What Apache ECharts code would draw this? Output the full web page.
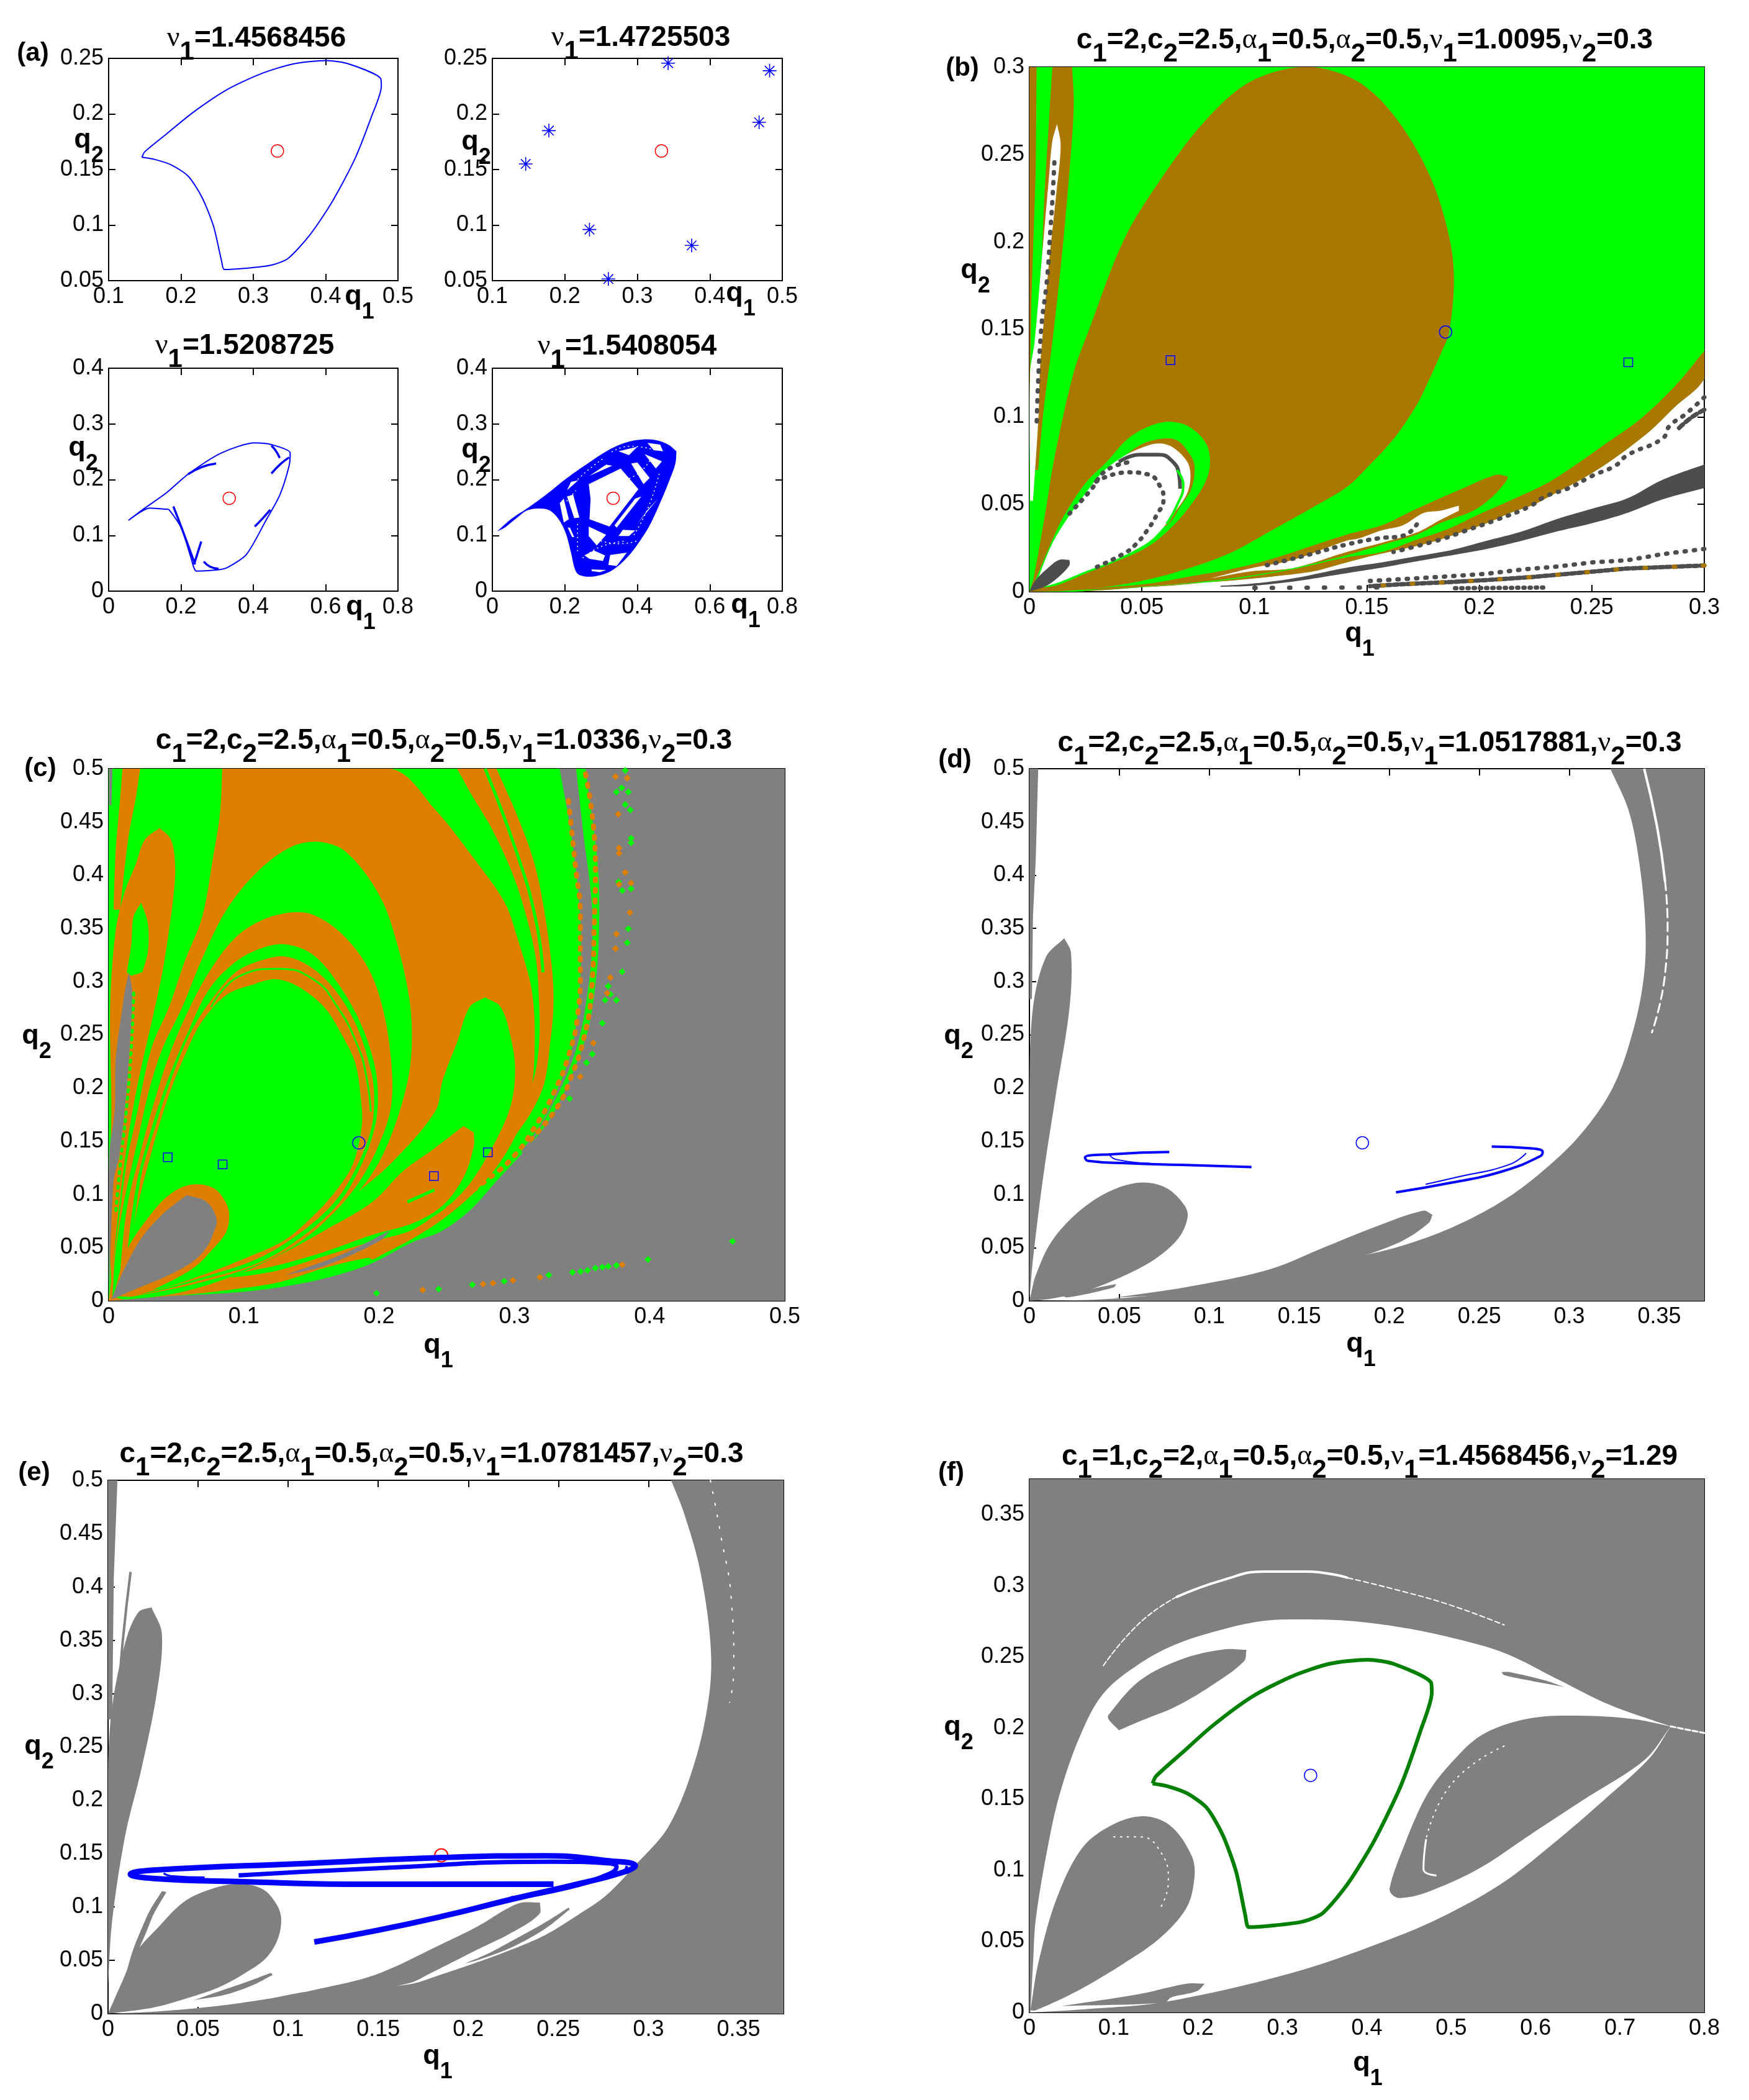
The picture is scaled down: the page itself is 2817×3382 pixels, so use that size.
<!DOCTYPE html>
<html><head><meta charset="utf-8"><style>html,body{margin:0;padding:0;background:#fff}#c{width:2817px;height:3382px}</style>
<script src="https://cdn.jsdelivr.net/npm/echarts@6/dist/echarts.min.js"></script></head><body><div id="c"></div>
<script>
const GREEN='#00FF00',BROWN='#AA7700',ORANGE='#DF7F00',GRAY='#808080',DARK='#4D4D4D',BLUE='#0000FF',RED='#FF0000',WHITE='#FFFFFF',OG='#007F00';

// ---- tick values
const t01to05=[0.1,0.2,0.3,0.4,0.5], t005to025=[0.05,0.1,0.15,0.2,0.25], t0to08a=[0,0.2,0.4,0.6,0.8], t0to04=[0,0.1,0.2,0.3,0.4];
const t0to03=[0,0.05,0.1,0.15,0.2,0.25,0.3], t0to05f=[0,0.05,0.1,0.15,0.2,0.25,0.3,0.35,0.4,0.45,0.5], t0to05c=[0,0.1,0.2,0.3,0.4,0.5];
const t0to035=[0,0.05,0.1,0.15,0.2,0.25,0.3,0.35], t0to08=[0,0.1,0.2,0.3,0.4,0.5,0.6,0.7,0.8];

// ---- equilibrium values
const eqA=[[0.3333,0.1667]], eqB=[[0.185,0.1485]];

// ---- panel (a)
const orbitA1=[[.146,.161],[.150,.166],[.180,.182],[.218,.202],[.264,.222],[.310,.236],[.355,.245],[.401,.248],[.432,.245],[.476,.232],[.477,.225],[.463,.197],[.440,.159],[.409,.121],[.378,.091],[.348,.070],[.325,.064],[.287,.061],[.260,.060],[.256,.068],[.245,.099],[.229,.125],[.210,.144],[.187,.154],[.164,.159],[.146,.161]];
const starsA2=[[.146,.155],[.178,.185],[.234,.096],[.260,.0515],[.3425,.2457],[.375,.0817],[.468,.1925],[.4825,.2389]];
const orbitA3=[[.055,.127],[.098,.148],[.159,.176],[.220,.210],[.312,.248],[.404,.266],[.450,.263],[.502,.248],[.499,.225],[.473,.172],[.435,.127],[.381,.066],[.327,.042],[.297,.038],[.243,.036],[.228,.059],[.202,.112],[.167,.146],[.159,.147],[.113,.149],[.083,.140],[.055,.127]];
const fragsA3=[[[.220,.210],[.259,.223],[.297,.229]],[[.450,.261],[.462,.252],[.473,.239]],[[.450,.211],[.475,.228],[.499,.240]],[[.404,.116],[.425,.130],[.447,.146]],[[.179,.152],[.205,.108],[.239,.048]],[[.236,.048],[.256,.089]],[[.263,.053],[.280,.044],[.304,.040]]];
const attractorA4=[[.0126,.107],[.051,.129],[.097,.149],[.148,.173],[.206,.203],[.263,.229],[.320,.253],[.365,.266],[.411,.272],[.451,.271],[.485,.263],[.508,.251],[.505,.229],[.491,.203],[.468,.166],[.434,.118],[.405,.088],[.377,.064],[.343,.043],[.314,.032],[.274,.026],[.240,.029],[.228,.039],[.217,.069],[.203,.103],[.183,.129],[.160,.144],[.137,.148],[.097,.145],[.063,.129],[.034,.114]];
const holesA4=[
 [[.266,.192],[.354,.220],[.403,.183],[.323,.116],[.268,.129],[.271,.165]],
 [[.383,.229],[.400,.231],[.434,.203],[.417,.192]],
 [[.428,.266],[.463,.263],[.471,.251],[.445,.253]],
 [[.420,.246],[.468,.233],[.451,.220]],
 [[.268,.207],[.331,.225],[.314,.227]],
 [[.186,.158],[.197,.166],[.211,.129],[.197,.123]],
 [[.206,.170],[.223,.173],[.240,.132],[.226,.131]],
 [[.266,.116],[.314,.101],[.288,.082],[.266,.099]],
 [[.280,.073],[.311,.064],[.305,.054],[.268,.058],[.254,.064]],
 [[.360,.110],[.394,.109],[.377,.099],[.348,.099]],
 [[.343,.114],[.411,.170],[.394,.166],[.337,.118]],
 [[.400,.121],[.457,.166],[.430,.147]],
 [[.325,.065],[.371,.069],[.343,.045],[.320,.047]],
 [[.274,.039],[.314,.038],[.297,.034],[.274,.036]],
 [[.208,.114],[.214,.114],[.226,.097],[.220,.097]],
 [[.217,.196],[.237,.199],[.206,.181]],
 [[.348,.251],[.400,.259],[.377,.244]]];
const speckA4=[[[.22,.19],[.26,.215],[.31,.24]],[[.33,.25],[.38,.26],[.44,.255]],[[.46,.21],[.43,.15],[.39,.10]],[[.25,.06],[.30,.08],[.37,.09]],[[.19,.15],[.23,.18]],[[.235,.12],[.235,.07]],[[.30,.09],[.35,.085],[.40,.09]],[[.44,.24],[.41,.215],[.37,.20]]];

// ---- panel (b)
const bGreenBase=[[0,0],[.0205,0],[.0343,.0011],[.0527,.0028],[.0711,.0046],[.0895,.0064],[.1079,.0087],[.1263,.0117],[.141,.0168],[.1514,.0203],[.1618,.0233],[.1722,.0262],[.1826,.0298],[.193,.0345],[.2034,.0392],[.2138,.0451],[.2242,.0498],[.2346,.0569],[.245,.064],[.2554,.0722],[.2658,.0817],[.2762,.0923],[.2866,.1053],[.3,.1218],[.3,.3],[0,.3]];
const bBand=[[.3,.1377],[.2866,.1171],[.271,.0982],[.2554,.084],[.2398,.0699],[.2294,.0616],[.2138,.0522],[.1992,.0439],[.1857,.0357],[.1722,.0298],[.1566,.0227],[.141,.0197],[.1171,.0129],[.0895,.007],[.0619,.0034],[.0343,.0017],[.0205,0],[.0343,.0011],[.0527,.0028],[.0711,.0046],[.0895,.0064],[.1079,.0087],[.1263,.0117],[.141,.0168],[.1514,.0203],[.1618,.0233],[.1722,.0262],[.1826,.0298],[.193,.0345],[.2034,.0392],[.2138,.0451],[.2242,.0498],[.2346,.0569],[.245,.064],[.2554,.0722],[.2658,.0817],[.2762,.0923],[.2866,.1053],[.3,.1218]];
const bTeardrop=[[.0159,.0005],[.0343,.0028],[.0527,.007],[.0711,.0135],[.0895,.0223],[.108,.0353],[.126,.0483],[.141,.0598],[.151,.0722],[.162,.0876],[.172,.1065],[.177,.1194],[.184,.1395],[.1865,.1478],[.1887,.1771],[.1868,.2015],[.1787,.2357],[.1648,.2675],[.1486,.2895],[.1301,.2993],[.1139,.2988],[.0954,.2895],[.0769,.2675],[.0583,.2357],[.0421,.2015],[.0259,.1478],[.0196,.125],[.0113,.0778],[.0067,.0424],[.0017,.007],[0,0]];
const bLoopGreen=[[.0012,.0022],[.0113,.0329],[.0159,.0447],[.0251,.0624],[.0343,.0742],[.0435,.0872],[.0527,.0943],[.0619,.0972],[.0711,.0943],[.0785,.0848],[.0803,.0742],[.0785,.0636],[.073,.0518],[.0638,.0376],[.0527,.0258],[.038,.017],[.0251,.0105],[.0113,.0034]];
const bLoopBrown=[[.038,.073],[.049,.0837],[.0582,.0874],[.0656,.0866],[.0711,.0789],[.0734,.0719],[.072,.0589],[.0674,.0494],[.0619,.0388],[.055,.035],[.05,.06],[.045,.07]];
const bLoopWhite=[[.0021,.0017],[.0095,.0258],[.0159,.04],[.0251,.0565],[.0325,.0683],[.0408,.0766],[.049,.0819],[.0573,.0848],[.0638,.0825],[.0702,.0742],[.0716,.066],[.0702,.0565],[.0656,.0471],[.0601,.0376],[.0527,.0282],[.038,.0182],[.0251,.0117],[.0113,.0046]];
const bLoopArc=[[.0398,.0742],[.049,.0784],[.0573,.0784],[.0628,.0755],[.0665,.0672],[.067,.0589]];
const bLoopDots=[[.0297,.063],[.0435,.0683],[.0527,.0671],[.0582,.0601],[.0596,.053],[.0564,.0435],[.0518,.0341],[.0472,.027],[.0426,.0223],[.0297,.014]];
const bLoopDots2=[[.0178,.0447],[.027,.0577],[.0343,.0695],[.0454,.0742]];
const bLoopGreenArc=[[.0656,.0695],[.0684,.0612],[.0656,.0494],[.061,.0388]];
const bBlob=[[0,.0005],[.003,.007],[.0086,.014],[.0132,.0182],[.0178,.0182],[.0178,.0152],[.0132,.0087],[.0076,.0034],[.0012,.0005]];
const bFingerTop=[[.0102,.3],[.019,.3],[.0197,.2773],[.0178,.2406],[.0144,.1918],[.0102,.1429],[.0063,.1038],[.0039,.0696],[.0016,.0696],[.0039,.1185],[.0063,.2162],[.0086,.2675]];
const bLeftStrip=[[0,.3],[.0032,.3],[.0028,.2406],[.0009,.1673],[0,.1014]];
const bSliver=[[.0123,.2675],[.0139,.2553],[.012,.2284],[.0086,.1869],[.0056,.1429],[.0046,.125],[.004,.0996],[.0016,.052],[.0003,.052],[.0003,.125],[.0023,.1429],[.0056,.1918],[.0086,.2357],[.0102,.2577]];
const bSliverDots=[[.0111,.2455],[.0102,.2235],[.0093,.2064],[.0079,.1796],[.0051,.1478],[.0032,.0941]];
const bFinger=[[.2128,.0658],[.2076,.0669],[.193,.0593],[.1722,.0475],[.1566,.038],[.141,.0327],[.1079,.0188],[.0895,.0129],[.0711,.0087],[.0527,.0046],[.0297,.0022],[.0067,.0005],[.0343,.0017],[.0619,.004],[.0895,.0076],[.1171,.0135],[.141,.0209],[.1566,.0268],[.1722,.0327],[.1826,.0392],[.1972,.0463],[.2055,.054],[.2117,.0628]];
const bFingerHole=[[.1909,.0492],[.1826,.0463],[.1753,.0451],[.166,.038],[.1566,.0351],[.1462,.0304],[.141,.0292],[.1171,.0182],[.0987,.0135],[.0803,.0076],[.0987,.0117],[.1171,.0135],[.141,.0227],[.1566,.028],[.1722,.0339],[.1826,.041],[.1909,.0463]];
const bHoleDots=[[.1722,.0385],[.166,.032],[.155,.0305],[.141,.027],[.125,.0215],[.105,.015]];
const bDarkBand=[[.3,.0728],[.2814,.064],[.2658,.0534],[.2502,.0475],[.2346,.0416],[.219,.0345],[.2034,.0292],[.1878,.0239],[.1722,.0203],[.1566,.0168],[.141,.0138],[.1171,.0076],[.0987,.0046],[.0849,.0034],[.0849,.0028],[.0987,.0034],[.1171,.0058],[.141,.0106],[.1566,.0138],[.1722,.0174],[.1878,.0209],[.2034,.0245],[.219,.0292],[.2346,.0345],[.2502,.0392],[.2658,.0451],[.2814,.0528],[.3,.0593]];
const bEdgeDots1=[[.3,.1112],[.2918,.1017],[.2845,.0947],[.2814,.0876],[.2658,.0781],[.2606,.0722],[.2502,.0663],[.2398,.0593],[.2294,.0545],[.2221,.0486],[.2086,.0416],[.193,.0345],[.1826,.0298],[.1618,.0227]];
const bEdgeDots2=[[.3,.1041],[.296,.1011],[.2928,.0982],[.2887,.0935]];
const bRowA=[[.3,.0245],[.2814,.0215],[.2658,.018],[.2502,.0168],[.2346,.0144],[.219,.0127],[.2034,.0103],[.1826,.0085],[.167,.0073],[.1514,.0062]];
const bRowB=[[.3,.015],[.2658,.0133],[.245,.0109],[.2242,.0085],[.2034,.0067],[.1878,.0056],[.167,.0044],[.1514,.0032]];
const bRowC=[[.2284,.0024],[.1888,.002]];
const bRowD=[[.1,.0022],[.16,.0025]];
const bMarks=[[.0627,.1324],[.2662,.1312]];

// ---- panel (c)
const cGreenBase=[[0,0],[.0118,.003],[.0446,.0046],[.0938,.0079],[.1266,.0128],[.1594,.021],[.1922,.034],[.225,.0553],[.2455,.0651],[.2669,.0847],[.2868,.1125],[.3082,.142],[.3266,.1714],[.3419,.2106],[.3541,.2531],[.3595,.2924],[.3625,.3414],[.3618,.4068],[.3526,.5],[0,.5]];
const cGrayChannel=[[.3335,.5],[.3419,.4395],[.348,.3741],[.3492,.325],[.3472,.276],[.3419,.2335],[.3327,.2008],[.3205,.1681],[.3052,.1403],[.3067,.137],[.3174,.1583],[.3296,.1878],[.3404,.2172],[.348,.2466],[.3526,.276],[.3572,.325],[.3572,.3741],[.351,.4395],[.3457,.5]];
const cBigBrown=[[.084,.5],[.2088,.5],[.2409,.4624],[.2715,.4133],[.2929,.3741],[.3021,.3414],[.3128,.2924],[.3151,.2433],[.312,.1943],[.3021,.1583],[.2868,.1256],[.2684,.0994],[.2486,.0782],[.2271,.0602],[.2027,.0438],[.195,.0389],[.1922,.0406],[.1594,.0308],[.1266,.0177],[.0938,.0111],[.061,.0062],[.0282,.003],[0,0],[.007,.07],[.0134,.13],[.02,.17],[.0315,.2369],[.0446,.276],[.0561,.3185],[.0692,.361],[.0774,.4183],[.0823,.4575]];
const cT1=[[.0028,.0046],[.0052,.0471],[.0118,.0962],[.0216,.1518],[.0298,.1975],[.0397,.2368],[.0544,.276],[.0692,.3218],[.0872,.3676],[.1102,.4035],[.1348,.4264],[.1553,.4313],[.1758,.4215],[.2004,.3806],[.2135,.3349],[.2225,.2825],[.2242,.2433],[.2217,.2106],[.2135,.1714],[.202,.1354],[.1889,.1092],[.1725,.0863],[.1512,.0635],[.1266,.0438],[.0938,.0242],[.0528,.0079],[.0118,.0013]];
const cT2=[[.0069,.0046],[.0134,.0864],[.0233,.1387],[.0331,.1844],[.0446,.2302],[.0577,.2695],[.0741,.3087],[.0938,.3414],[.1135,.3578],[.1348,.3649],[.1512,.3627],[.1725,.3447],[.1922,.312],[.2037,.2695],[.2094,.2172],[.2086,.1812],[.2004,.1485],[.1873,.1158],[.1692,.0863],[.143,.0569],[.1102,.034],[.0692,.0177],[.02,.0046]];
const cT3=[[.0102,.0046],[.02,.106],[.0315,.1616],[.0446,.2106],[.0577,.2499],[.0741,.2924],[.0938,.3185],[.1135,.3316],[.1315,.3349],[.1512,.3251],[.1692,.2989],[.1856,.2629],[.1963,.2237],[.1991,.1943],[.1971,.1648],[.1873,.1289],[.1709,.0929],[.1463,.0635],[.1135,.0373],[.0725,.0209],[.0249,.0062]];
const cT4=[[.0134,.0046],[.0233,.1125],[.0348,.1648],[.0479,.2139],[.061,.2531],[.0758,.2825],[.0938,.3087],[.1135,.3202],[.1315,.3234],[.1512,.312],[.1692,.2891],[.184,.2564],[.1938,.2171],[.1963,.1943],[.1947,.1648],[.1856,.1321],[.1692,.0962],[.1446,.0667],[.1118,.0406],[.0708,.0226],[.0282,.0079]];
const cT5Line=[[.0758,.276],[.0971,.3054],[.125,.312],[.1512,.3022],[.1692,.276],[.184,.24],[.1906,.2106],[.1938,.1779]];
const cT7=[[.0118,.0111],[.02,.0798],[.0307,.1354],[.043,.1877],[.0561,.2302],[.0692,.2629],[.0872,.2875],[.1069,.2973],[.1233,.3022],[.1397,.2956],[.1594,.276],[.1725,.2499],[.1823,.2237],[.1864,.191],[.1872,.1648],[.1807,.1289],[.1676,.1027],[.1512,.0798],[.1299,.0569],[.102,.0406],[.0692,.0242],[.0364,.0111]];
const cLobeBrown=[[.0036,.0046],[.0134,.0471],[.0282,.0765],[.0446,.0994],[.061,.1092],[.0774,.106],[.0864,.0929],[.0892,.0798],[.0864,.0635],[.0758,.0471],[.0643,.0324],[.0446,.0177],[.02,.0046]];
const cLobeGray=[[.002,.0013],[.0118,.0308],[.0249,.0602],[.0413,.0831],[.0577,.0994],[.0725,.0929],[.0799,.0765],[.0774,.0635],[.0725,.0504],[.0626,.0373],[.0446,.0242],[.02,.0111]];
const cBulb=[[.2784,.2852],[.2899,.276],[.2975,.2466],[.3006,.2171],[.2975,.1844],[.2868,.1517],[.2684,.1125],[.2531,.0913],[.2409,.0798],[.2225,.0655],[.195,.056],[.1594,.042],[.1266,.029],[.105,.024],[.09,.022],[.105,.03],[.125,.042],[.145,.058],[.16,.073],[.1758,.0929],[.2086,.129],[.2414,.178],[.247,.2073],[.2577,.2433],[.2669,.276]];
const cFingerSmall=[[.2623,.1642],[.27,.1583],[.27,.1452],[.2623,.1158],[.247,.0896],[.2256,.0733],[.195,.062],[.1594,.046],[.1266,.034],[.1,.027],[.1266,.043],[.1594,.066],[.195,.0929],[.218,.1223],[.2394,.1419]];
const cGreenSpot=[[.221,.093],[.2409,.1043]];
const cGraySliver=[[.13,.024],[.175,.045],[.2086,.0665],[.2,.056],[.16,.033]];
const cLeftLobe=[[.0377,.4444],[.0462,.433],[.0492,.4068],[.0479,.3806],[.0446,.3479],[.0397,.3087],[.0331,.2695],[.0266,.2335],[.02,.1943],[.0134,.1452],[.0069,.0798],[.002,.0144],[.0003,.0798],[.002,.1779],[.0011,.276],[.0052,.3479],[.0118,.3839],[.02,.4101],[.0266,.433]];
const cTopStrip=[[.0102,.5],[.0233,.5],[.02,.4722],[.0151,.4395],[.0118,.4068],[.0085,.3676],[.0036,.3676],[.0052,.4232],[.0085,.4722]];
const cLeftGreen=[[.0241,.3741],[.029,.3545],[.029,.3283],[.0249,.3087],[.0167,.3054],[.0134,.3087],[.0167,.3349],[.0184,.361]];
const cGrayColumn=[[.015,.3087],[.0175,.2891],[.0159,.2433],[.0118,.1779],[.0077,.1354],[.0036,.1125],[.0003,.0046],[.0003,.1354],[.0044,.1779],[.0052,.2269],[.0102,.276],[.0126,.2957]];
const cGrayTop=[[.0003,.5],[.0028,.5],[.002,.4657],[.0003,.4657]];
const cColumnEdge=[[.0185,.2891],[.017,.2433],[.013,.1779],[.0092,.1354],[.005,.08]];
const cStripe=[[.2577,.5],[.2868,.5],[.3021,.4559],[.3143,.4133],[.322,.3676],[.3281,.3087],[.3289,.276],[.3266,.2433],[.322,.204],[.3128,.1779],[.3006,.155],[.3082,.1844],[.3159,.2171],[.3186,.2498],[.3182,.2825],[.3159,.3218],[.3082,.3643],[.299,.4003],[.2837,.4428],[.2684,.4755]];
const cStripeGreen=[[.2784,.5],[.3021,.4199],[.3159,.3578],[.3212,.3087]];
const cEdgeOuter=[[.3526,.495],[.36,.41],[.359,.35],[.357,.29],[.352,.25],[.3419,.21],[.3296,.178],[.3082,.147]];
const cEdgeInner=[[.34,.47],[.345,.41],[.3488,.36],[.3488,.31],[.347,.27],[.34,.23],[.329,.195],[.316,.165],[.299,.135],[.281,.115],[.249,.085]];
const cDotsGreen=[[.3794,.482],[.3755,.4781],[.3843,.4781],[.382,.4663],[.3858,.4614],[.3863,.4346],[.3863,.4304],[.3771,.3937],[.3798,.3855],[.3863,.3872],[.3843,.3496],[.3835,.3365],[.3797,.3094],[.3694,.2956],[.371,.2881],[.3671,.2825],[.3755,.2825],[.3651,.261],[.3576,.2319],[.3534,.2237],[.3408,.19],[.3988,.0389],[.3755,.0334],[.3694,.0324],[.3651,.0317],[.3599,.0308],[.3541,.0288],[.3491,.0275],[.343,.0268],[.3255,.0242],[.2925,.0184],[.2689,.0151],[.244,.0111],[.1981,.0072],[.382,.4984],[.4613,.0559]];
const cDotsBrown=[[.3748,.4925],[.3835,.4912],[.3768,.4572],[.3774,.4254],[.3774,.4205],[.382,.4026],[.3774,.3914],[.3863,.3927],[.3855,.365],[.3755,.3447],[.3748,.3309],[.371,.3038],[.3687,.2891],[.3584,.2423],[.3488,.2106],[.3798,.034],[.3189,.0222],[.299,.0193],[.2842,.0167],[.2769,.0157],[.2322,.0102]];
const cMarks=[[.0437,.1349],[.0843,.1282],[.2405,.1172],[.2804,.1396]];

// ---- panel (d)
const dMain=[[0,0],[.0468,.002],[.0902,.0099],[.1335,.0236],[.1769,.0394],[.2058,.0512],[.2347,.0689],[.2636,.0946],[.2867,.1241],[.3069,.1576],[.3243,.2009],[.3358,.2561],[.3416,.3073],[.3422,.3546],[.3387,.4137],[.3329,.461],[.3228,.5],[.375,.5],[.375,0]];
const dWhiteLine=[[.3416,.5],[.3488,.4452],[.3532,.394]];
const dWhiteDash=[[.3532,.394],[.3546,.3546],[.3532,.3073],[.3459,.2522]];
const dLobe=[[0,0],[.0035,.0236],[.0121,.0552],[.0266,.0827],[.0439,.1024],[.0613,.1111],[.0757,.1064],[.0858,.0906],[.0879,.0788],[.0829,.0591],[.0699,.0394],[.0526,.0236],[.0324,.0099],[.0121,.002]];
const dSliver1=[[.0179,.0059],[.0483,.0158],[.0468,.0126],[.0208,.0032]];
const dSliver2=[[.0136,.0611],[.0035,.0236],[.0006,.0118],[.0078,.0394]];
const dFinger=[[.0194,.3408],[.0231,.327],[.0223,.2758],[.015,.197],[.0078,.1182],[.002,.0394],[0,0],[0,.197],[.002,.2758],[.0092,.3231]];
const dTopStrip=[[0,.5],[.0049,.5],[.0035,.4137],[.002,.3625],[.0014,.2837],[0,.2837]];
const dRidge=[[.0468,.0028],[.0902,.0138],[.1335,.0296],[.1624,.0493],[.1913,.069],[.2188,.0847],[.224,.0808],[.2217,.0729],[.2058,.0552],[.1769,.0374],[.148,.0217],[.0902,.0079]];
const dBlue1=[[.0777,.1399],[.0468,.1379],[.0309,.1347],[.0324,.1316],[.0555,.1292],[.0844,.1277],[.1234,.1257]];
const dBlue2=[[.0445,.1371],[.0483,.1328],[.067,.1292]];
const dBlue3=[[.2569,.145],[.278,.1434],[.2852,.1399],[.2838,.1359],[.2636,.1221],[.2347,.1111],[.2037,.102]];
const dBlue4=[[.276,.1387],[.2665,.128],[.2376,.1162],[.2202,.1095]];

// ---- panel (e)
const eMain=[[0,0],[.0253,.0019],[.0536,.0059],[.0725,.0098],[.0914,.0147],[.1103,.0206],[.1292,.0225],[.167,.0275],[.1859,.0373],[.2048,.0481],[.2237,.0599],[.2426,.0737],[.2615,.0933],[.2766,.111],[.2929,.1395],[.3112,.1756],[.3257,.2358],[.3338,.2999],[.3344,.3481],[.3286,.4162],[.3199,.4684],[.3126,.5],[.375,.5],[.375,0]];
const eRidge=[[.2398,.1042],[.2394,.0933],[.2237,.0756],[.2048,.0599],[.1783,.0373],[.167,.0285],[.1292,.0177],[.1103,.0206],[.148,.0363],[.1859,.0658],[.2048,.0815],[.2275,.1032]];
const eRidge2=[[.2558,.0996],[.2426,.0855],[.2237,.0678],[.2105,.056],[.1982,.0471],[.2048,.05],[.2237,.0619],[.2426,.0796],[.2562,.0977]];
const eLobe=[[.0725,.1218],[.0857,.1169],[.0933,.1032],[.0961,.0894],[.0942,.0698],[.0876,.052],[.0763,.0383],[.0612,.0245],[.0442,.0147],[.0253,.0058],[0,0],[.0064,.0245],[.0158,.058],[.0271,.0796],[.0423,.1051],[.0574,.1169]];
const eSliver1=[[.0905,.0383],[.0914,.0363],[.08,.0265],[.0649,.0177],[.0479,.0128],[.0593,.0196],[.0763,.0294]];
const eSliver2=[[.03,.115],[.0324,.114],[.0253,.0933],[.0215,.0776],[.0158,.056],[.0101,.0383],[.0139,.0599],[.0186,.0796],[.0234,.0973]];
const eFinger=[[.0241,.381],[.0299,.3561],[.027,.3],[.0183,.2278],[.0096,.1676],[.0023,.0874],[0,.0273],[0,.2278],[.0023,.2879],[.0096,.3481],[.0168,.3762]];
const eTopStrip=[[0,.5],[.0052,.5],[.0032,.4082],[.0023,.2759],[0,.2759]];
const eThin=[[.0125,.4142],[.0081,.3481],[.0052,.2879],[.0032,.2679]];
const eWhiteDash=[[.3344,.5],[.3402,.4483],[.346,.3882],[.3474,.324],[.3451,.2919]];
const eBlue1=[[.1145,.0672],[.1481,.0776],[.1859,.0914],[.2237,.1071],[.2615,.1218],[.2861,.1327],[.2927,.1386],[.2766,.1435],[.2426,.148],[.1859,.1464],[.1103,.1409],[.0253,.1346],[.0124,.1307],[.0253,.1268],[.0725,.1238],[.1481,.1213],[.2473,.1215]];
const eBlue2=[[.0725,.1297],[.1481,.1362],[.2464,.1425],[.2785,.1409],[.2823,.1376],[.2747,.1287],[.2521,.1169],[.2237,.1081]];
const eBlue3=[[.288,.1386],[.2861,.1337],[.2672,.1238]];
const eBlue4=[[.0309,.1317],[.0347,.1291],[.0536,.1277]];

// ---- panel (f)
const fWhite=[[.0012,0],[.0043,.0346],[.0074,.0647],[.0197,.1099],[.0352,.152],[.0598,.1941],[.0876,.2242],[.1308,.2453],[.174,.2589],[.2295,.2694],[.2789,.2754],[.3282,.2763],[.3776,.2754],[.4393,.2709],[.501,.2634],[.5627,.2528],[.6244,.2348],[.6861,.2167],[.7601,.2011],[.7355,.1791],[.6861,.152],[.6244,.1204],[.5627,.0918],[.501,.0707],[.4393,.0542],[.3159,.0286],[.1617,.0075],[.0691,.0024]];
const fI1=[[.0938,.2092],[.1308,.2333],[.1802,.2483],[.2295,.2552],[.2573,.2549],[.2542,.2468],[.2171,.2303],[.174,.2152],[.1308,.2047],[.1061,.1984],[.0938,.2062]];
const fI2=[[.0012,.0015],[.0105,.0346],[.0321,.0798],[.0629,.1159],[.1,.1324],[.137,.1379],[.1678,.1309],[.1925,.1099],[.1956,.0948],[.1863,.0737],[.1555,.0527],[.1123,.0346],[.0568,.0151],[.0074,.0015]];
const fI3=[[.427,.0873],[.4393,.1099],[.4702,.152],[.501,.1761],[.538,.1957],[.5935,.2068],[.6553,.2086],[.717,.2062],[.7601,.2011],[.7293,.1776],[.6553,.149],[.5935,.1249],[.5319,.1008],[.4702,.0843],[.4393,.0804],[.43,.0828]];
const fI4=[[.0383,.0045],[.1308,.013],[.1863,.0202],[.2079,.0202],[.1987,.0151],[.1678,.0105],[.1604,.0069]];
const fI5=[[.5596,.2393],[.5689,.2393],[.6121,.2333],[.6337,.2288],[.5935,.2333],[.5627,.2372]];
const fArcMid=[[.174,.292],[.2295,.304],[.2789,.31],[.3282,.31],[.3776,.3055]];
const fArcLeft=[[.0876,.2438],[.1308,.2739],[.174,.292]];
const fArcRight=[[.3776,.3055],[.4393,.2965],[.501,.286],[.5627,.2724]];
const fSpeck1=[[.1,.1234],[.1308,.1234],[.1555,.1129],[.1647,.0918],[.1555,.0737]];
const fSpeck2=[[.5627,.1873],[.501,.1611],[.4702,.1219]];
const fSpeck3=[[.4702,.1219],[.4671,.1008],[.4825,.0963]];
const fTail=[[.7601,.2011],[.8,.1965]];

// ---- layout
const grids=[
 {l:175,t:94,w:466,h:358,x:[.1,.5,t01to05],y:[.05,.25,t005to025]},
 {l:793,t:94,w:467,h:358,x:[.1,.5,t01to05],y:[.05,.25,t005to025]},
 {l:175,t:593,w:466,h:359,x:[0,.8,t0to08a],y:[0,.4,t0to04]},
 {l:793,t:593,w:467,h:359,x:[0,.8,t0to08a],y:[0,.4,t0to04]},
 {l:1658,t:108,w:1087,h:845,x:[0,.3,t0to03],y:[0,.3,t0to03]},
 {l:175,t:1238,w:1089,h:857,x:[0,.5,t0to05c],y:[0,.5,t0to05f]},
 {l:1658,t:1238,w:1087,h:857,x:[0,.375,t0to035],y:[0,.5,t0to05f]},
 {l:174,t:2384,w:1088,h:859,x:[0,.375,t0to035],y:[0,.5,t0to05f]},
 {l:1658,t:2382,w:1087,h:859,x:[0,.8,t0to08],y:[0,.375,t0to035]}];
const A1=0,A2=1,A3=2,A4=3,B=4,C=5,D=6,E=7,F=8;

// rounds the outline of a filled region through its read points, keeping sharp tips
function outline(px){
 const n=px.length,tan=[];
 const unit=(a,b)=>{const dx=b[0]-a[0],dy=b[1]-a[1],d=Math.hypot(dx,dy)||1;return [dx/d,dy/d];};
 const corner=[];
 for(let i=0;i<n;i++){const p=px[(i+n-1)%n],c=px[i],q=px[(i+1)%n],u=unit(p,c),v=unit(c,q);
  corner[i]=(u[0]*v[0]+u[1]*v[1])<0.6;tan[i]=unit(p,q);}
 const out=[];
 for(let i=0;i<n;i++){const a=px[i],b=px[(i+1)%n],j=(i+1)%n,d=Math.hypot(b[0]-a[0],b[1]-a[1])/3,s=unit(a,b);
  const ta=corner[i]?s:tan[i],tb=corner[j]?s:tan[j];
  const c1=[a[0]+ta[0]*d,a[1]+ta[1]*d],c2=[b[0]-tb[0]*d,b[1]-tb[1]*d];
  for(let k=0;k<10;k++){const t=k/10,m=1-t;
   out.push([m*m*m*a[0]+3*m*m*t*c1[0]+3*m*t*t*c2[0]+t*t*t*b[0],m*m*m*a[1]+3*m*m*t*c1[1]+3*m*t*t*c2[1]+t*t*t*b[1]]);}}
 return out;
}
const series=[];
function fill(g,color,pts,sharp){series.push({type:'custom',coordinateSystem:'cartesian2d',xAxisIndex:g*2,yAxisIndex:g*2,clip:true,silent:true,animation:false,data:pts,
  renderItem:(p,api)=>{if(p.dataIndex!==0)return null;const px=pts.map(q=>api.coord(q));return {type:'polygon',shape:{points:sharp?px:outline(px)},style:{fill:color}};}});}
function line(g,color,pts,width,dash,smooth){series.push({type:'line',xAxisIndex:g*2,yAxisIndex:g*2,data:pts,showSymbol:false,silent:true,animation:false,smooth:smooth===undefined?0.5:smooth,
  lineStyle:{color,width,type:dash||'solid',cap:dash?'round':'butt',join:'round'}});}
function dots(g,symbol,size,face,edge,bw,pts){series.push({type:'scatter',xAxisIndex:g*2,yAxisIndex:g*2,data:pts,symbol,symbolSize:size,silent:true,animation:false,
  itemStyle:{color:face,borderColor:edge,borderWidth:bw,opacity:1}});}
const NONE='rgba(0,0,0,0)';

// (a)
line(A1,BLUE,orbitA1,2,null,.25); dots(A1,'circle',20,NONE,RED,1.5,eqA);
dots(A2,'path://M-10,0L10,0M0,-10L0,10M-7,-7L7,7M-7,7L7,-7',22,NONE,BLUE,1.6,starsA2); dots(A2,'circle',20,NONE,RED,1.5,eqA);
line(A3,BLUE,orbitA3,2,null,.25); fragsA3.forEach(f=>line(A3,BLUE,f,3.5)); dots(A3,'circle',20,NONE,RED,1.5,eqA);
fill(A4,BLUE,attractorA4); holesA4.forEach(h=>fill(A4,WHITE,h,true)); speckA4.forEach(s=>line(A4,WHITE,s,1.5,[1,6])); dots(A4,'circle',20,NONE,RED,1.5,eqA);

// (b)
fill(B,GREEN,bGreenBase,true); fill(B,BROWN,bBand); fill(B,BROWN,bTeardrop);
fill(B,GREEN,bLoopGreen); fill(B,BROWN,bLoopBrown); fill(B,WHITE,bLoopWhite);
line(B,DARK,bLoopArc,6); line(B,GREEN,bLoopGreenArc,4);
line(B,DARK,bLoopDots,7,[2,12]); line(B,DARK,bLoopDots2,7,[2,12]); fill(B,DARK,bBlob);
fill(B,BROWN,bLeftStrip,true); fill(B,BROWN,bFingerTop); fill(B,WHITE,bSliver);
line(B,DARK,bSliverDots,7,[2,14]);
fill(B,BROWN,bFinger); fill(B,WHITE,bFingerHole); line(B,DARK,bHoleDots,7,[2,12]);
fill(B,DARK,bDarkBand); line(B,DARK,bEdgeDots1,7,[2,13]); line(B,DARK,bEdgeDots2,7,[8,6]);
line(B,DARK,bRowA,7,[2,13],0); line(B,DARK,bRowB,7,[6,5],0); line(B,BROWN,bRowB,7,[2,45],0); line(B,DARK,bRowC,7,[2,8],0); line(B,DARK,bRowD,7,[2,26],0);
dots(B,'circle',20,NONE,BLUE,1.5,eqB); dots(B,'rect',14,NONE,BLUE,1.5,bMarks);

// (c)
fill(C,GRAY,[[0,0],[.5,0],[.5,.5],[0,.5]],true);
fill(C,GREEN,cGreenBase); fill(C,GRAY,cGrayChannel);
fill(C,ORANGE,cBigBrown); fill(C,GREEN,cT1); fill(C,ORANGE,cT2); fill(C,GREEN,cT3); fill(C,ORANGE,cT4); line(C,GREEN,cT5Line,3); fill(C,GREEN,cT7);
fill(C,ORANGE,cLobeBrown); fill(C,GRAY,cLobeGray);
fill(C,GREEN,cBulb); fill(C,ORANGE,cFingerSmall); line(C,GREEN,cGreenSpot,5); fill(C,GRAY,cGraySliver);
fill(C,ORANGE,cLeftLobe); fill(C,ORANGE,cTopStrip); fill(C,GREEN,cLeftGreen); fill(C,GRAY,cGrayColumn); fill(C,GRAY,cGrayTop,true); line(C,GREEN,cColumnEdge,5,[3,9]);
fill(C,ORANGE,cStripe); line(C,GREEN,cStripeGreen,5);
line(C,ORANGE,cEdgeOuter,8,[3,14]); line(C,ORANGE,cEdgeInner,8,[3,14]);
dots(C,'diamond',11,GREEN,GREEN,0,cDotsGreen); dots(C,'diamond',11,ORANGE,ORANGE,0,cDotsBrown);
dots(C,'circle',20,NONE,BLUE,1.5,eqB); dots(C,'rect',14,NONE,BLUE,1.5,cMarks);

// (d)
fill(D,GRAY,dMain); line(D,WHITE,dWhiteLine,4); line(D,WHITE,dWhiteDash,3,[14,8]);
fill(D,GRAY,dLobe); fill(D,GRAY,dSliver1); fill(D,GRAY,dSliver2); fill(D,GRAY,dFinger); fill(D,GRAY,dTopStrip,true); fill(D,GRAY,dRidge);
line(D,BLUE,dBlue1,4); line(D,BLUE,dBlue2,2); line(D,BLUE,dBlue3,4); line(D,BLUE,dBlue4,2);
dots(D,'circle',20,NONE,BLUE,1.5,eqB);

// (e)
fill(E,GRAY,eMain); line(E,WHITE,eWhiteDash,2,[3,16]);
fill(E,GRAY,eRidge); fill(E,GRAY,eRidge2); fill(E,GRAY,eLobe); fill(E,GRAY,eSliver1); fill(E,GRAY,eSliver2); fill(E,GRAY,eFinger); fill(E,GRAY,eTopStrip,true); line(E,GRAY,eThin,4);
line(E,BLUE,eBlue1,9); line(E,BLUE,eBlue2,7); line(E,BLUE,eBlue3,4); line(E,BLUE,eBlue4,3);
dots(E,'circle',21,NONE,RED,2,eqB);

// (f)
fill(F,GRAY,[[0,0],[.8,0],[.8,.375],[0,.375]],true); fill(F,WHITE,fWhite);
fill(F,GRAY,fI1); fill(F,GRAY,fI2); fill(F,GRAY,fI3); fill(F,GRAY,fI4); fill(F,GRAY,fI5);
line(F,WHITE,fArcMid,4); line(F,WHITE,fArcLeft,2,[8,4]); line(F,WHITE,fArcRight,2,[8,5]);
line(F,WHITE,fSpeck1,2,[2,9]); line(F,WHITE,fSpeck2,2,[2,9]); line(F,WHITE,fSpeck3,3); line(F,WHITE,fTail,3,[8,4],0);
line(F,OG,orbitA1,6,null,.25); dots(F,'circle',20,NONE,BLUE,1.5,eqA);

// axes
const xAxis=[],yAxis=[],grid=[];
const axLine={show:true,onZero:false,lineStyle:{color:'#000',width:2}};
grids.forEach((g,i)=>{
 grid.push({left:g.l,top:g.t,width:g.w,height:g.h,containLabel:false});
 const mk=(range,pos,lab)=>({type:'value',gridIndex:i,position:pos,min:range[0],max:range[1],scale:true,splitLine:{show:false},axisLine:axLine,
   axisTick:{show:true,inside:true,length:11,lineStyle:{color:'#000',width:2},customValues:range[2]},
   axisLabel:lab?{show:true,customValues:range[2],color:'#000',fontSize:36,fontFamily:'Liberation Sans',margin:8,hideOverlap:false,showMinLabel:true,showMaxLabel:true}:{show:false}});
 xAxis.push(mk(g.x,'bottom',true),mk(g.x,'top',false));
 yAxis.push(mk(g.y,'left',true),mk(g.y,'right',false));
});

// text
const bold={fontFamily:'Liberation Sans',fontWeight:'bold',color:'#000'};
const serif={fontFamily:'Liberation Serif',fontWeight:'normal',color:'#000'};
const rich={
 t:{...bold,fontSize:46,lineHeight:66,verticalAlign:'top'},
 s:{...bold,fontSize:42,lineHeight:66,verticalAlign:'bottom'},
 g:{...serif,fontSize:46,lineHeight:66,verticalAlign:'top'},
 q:{...bold,fontSize:45,lineHeight:66,verticalAlign:'top'},
 r:{...bold,fontSize:36,lineHeight:66,verticalAlign:'bottom'},
 p:{...bold,fontSize:42,lineHeight:50}};
function tex(s){return s.replace(/_(\d)|([αν])|([^_αν]+)/g,(m,a,b,c)=>a?`{s|${a}}`:b?`{g|${b}}`:`{t|${c}}`);}
const titleTexts=[
 ['ν_1=1.4568456',413,72],['ν_1=1.4725503',1032,71],['ν_1=1.5208725',394,567],['ν_1=1.5408054',1010,568],
 ['c_1=2,c_2=2.5,α_1=0.5,α_2=0.5,ν_1=1.0095,ν_2=0.3',2198,75],
 ['c_1=2,c_2=2.5,α_1=0.5,α_2=0.5,ν_1=1.0336,ν_2=0.3',715,1203],
 ['c_1=2,c_2=2.5,α_1=0.5,α_2=0.5,ν_1=1.0517881,ν_2=0.3',2206,1207],
 ['c_1=2,c_2=2.5,α_1=0.5,α_2=0.5,ν_1=1.0781457,ν_2=0.3',695,2352],
 ['c_1=1,c_2=2,α_1=0.5,α_2=0.5,ν_1=1.4568456,ν_2=1.29',2206,2356]];
const q1At=[[579,488],[1193,483],[581,988],[1201,985],[2190,1031],[706,2177],[2192,2175],[705,3322],[2203,3333]];
const q2At=[[143,236],[767,239],[134,732],[767,735],[1571,446],[59,1679],[1544,1679],[63,2823],[1544,2792]];
const panelLabels=[['(a)',53,86],['(b)',1550,110],['(c)',65,1238],['(d)',1538,1224],['(e)',55,2372],['(f)',1532,2372]];
const title=[];
const add=(text,x,y,h)=>title.push({text,left:x,top:y-h/2,textAlign:'center',padding:0,itemGap:0,textStyle:{rich,fontSize:40}});
titleTexts.forEach(a=>add(tex(a[0]),a[1],a[2],66));
q1At.forEach(a=>add('{q|q}{r|1}',a[0],a[1],66));
q2At.forEach(a=>add('{q|q}{r|2}',a[0],a[1],66));
panelLabels.forEach(a=>add(`{p|${a[0]}}`,a[1],a[2],50));

const chart=echarts.init(document.getElementById('c'),null,{renderer:'canvas'});
chart.setOption({animation:false,backgroundColor:'#fff',title,grid,xAxis,yAxis,series,tooltip:{show:false},legend:{show:false}});
</script></body></html>
